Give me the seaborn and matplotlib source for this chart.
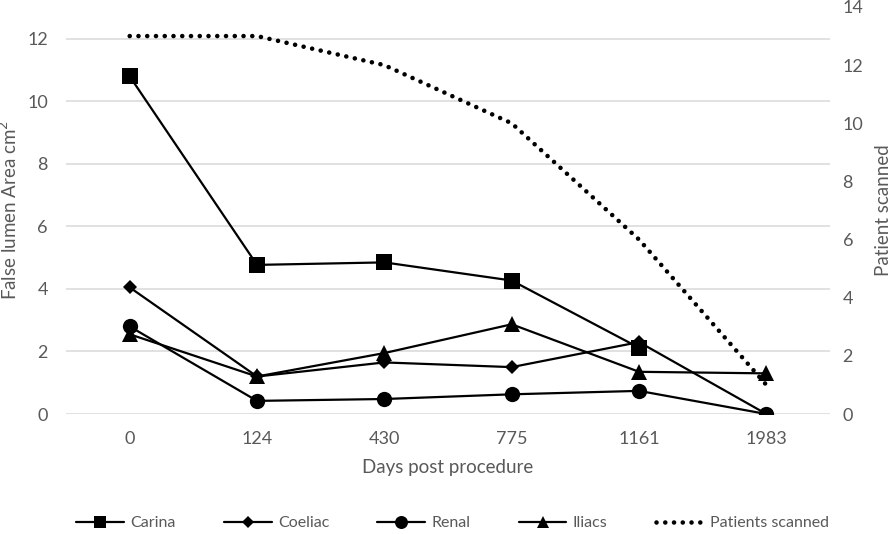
import numpy as np
import pandas as pd
import seaborn as sns
import matplotlib.pyplot as plt

# data
days = ['0', '124', '430', '775', '1161', '1983']
carina = [10.8, 4.77, 4.85, 4.27, 2.12, np.nan]
coeliac = [4.05, 1.2, 1.65, 1.5, 2.3, 0.0]
renal = [2.8, 0.42, 0.48, 0.63, 0.74, 0.0]
iliacs = [2.55, 1.2, 1.95, 2.87, 1.35, 1.3]
patients = [13, 13, 12, 10, 6, 1]

sns.set_theme(style='white')
plt.rcParams['font.family'] = ['Lato', 'DejaVu Sans']
txt = '#595959'

fig = plt.figure(figsize=(8.96, 5.34), dpi=100)
ax = fig.add_axes([0.0737, 0.2247, 0.8527, 0.7622])
ax2 = ax.twinx()

pos = np.arange(len(days))

series = [('Carina', carina, 's', 11),
          ('Coeliac', coeliac, 'D', 7),
          ('Renal', renal, 'o', 11),
          ('Iliacs', iliacs, '^', 11)]
for name, vals, mk, ms in series:
    sns.lineplot(x=pos, y=vals, ax=ax, color='black', lw=1.6, marker=mk,
                 markersize=ms, markeredgewidth=0, label=name)

sns.lineplot(x=pos, y=patients, ax=ax2, color='black', lw=3.3,
             linestyle=(0, (0.01, 1.9)), dash_capstyle='round',
             label='Patients scanned')

# left axis
ax.set_xlim(-0.5, len(days) - 0.5)
ax.set_ylim(0, 13.02)
ax.set_yticks(range(0, 13, 2))
ax.set_xticks(pos)
ax.set_xticklabels(days)
ax.grid(axis='y', color='#d9d9d9', lw=1.1)
ax.set_axisbelow(True)
ax.tick_params(axis='both', length=0, labelsize=13, colors=txt)
ax.tick_params(axis='y', pad=13)
ax.tick_params(axis='x', pad=12)
ax.set_xlabel('Days post procedure', fontsize=13.5, color=txt, labelpad=9)
ax.set_ylabel('False lumen Area cm$^2$', fontsize=13.5, color=txt, labelpad=5)

# right axis
ax2.set_ylim(0, 14)
ax2.set_yticks(range(0, 15, 2))
ax2.tick_params(axis='y', length=0, labelsize=13, colors=txt, pad=9)
ax2.set_ylabel('Patient scanned', fontsize=13.5, color=txt, labelpad=8)
ax2.grid(False)

for a in (ax, ax2):
    for s in a.spines.values():
        s.set_visible(False)

h1, l1 = ax.get_legend_handles_labels()
h2, l2 = ax2.get_legend_handles_labels()
ax.get_legend().remove()
ax2.get_legend().remove()
leg = fig.legend(h1 + h2, l1 + l2, loc='center', bbox_to_anchor=(0.505, 0.02),
                 ncol=5, frameon=False, fontsize=11.5, handlelength=3.0,
                 handletextpad=0.4, columnspacing=3.0, markerscale=0.85)
for t in leg.get_texts():
    t.set_color(txt)

fig.savefig('out.png', dpi=100)
